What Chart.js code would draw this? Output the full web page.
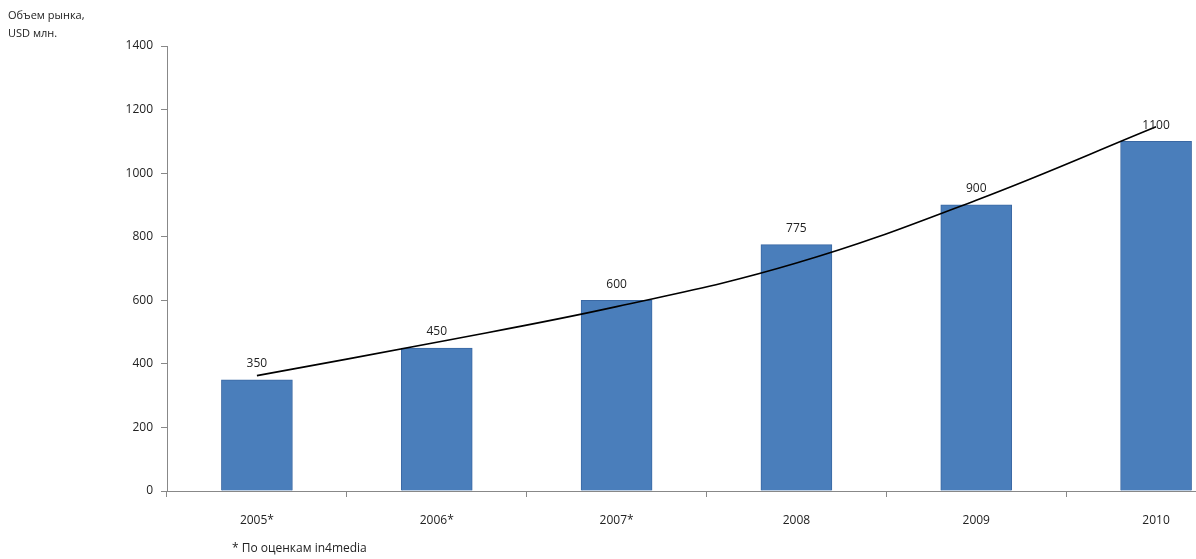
<!DOCTYPE html>
<html>
<head>
<meta charset="utf-8">
<script src="https://cdn.jsdelivr.net/npm/chart.js@4/dist/chart.umd.min.js"></script>
<style>
  html, body { margin: 0; padding: 0; background: #fff; overflow: hidden; }
  #wrap { position: relative; width: 1196px; height: 559px; overflow: hidden; }
  canvas { position: absolute; left: 0; top: 0; }
  .note { position: absolute; font-family: "Open Sans", "Liberation Sans", sans-serif; color: #222; }
</style>
</head>
<body>
<div id="wrap">
  <canvas id="chart" width="1250" height="559"></canvas>
  <div class="note" style="left:8px; top:6px; font-size:11px; line-height:18px;">Объем рынка,<br>USD млн.</div>
  <div class="note" style="left:232px; top:539px; font-size:12px;">* По оценкам in4media</div>
</div>
<script>
// данные
const YEARS = ['2005*', '2006*', '2007*', '2008', '2009', '2010'];
const MARKET = [350, 450, 600, 775, 900, 1100];
const TREND = [363, 468, 580, 717, 915, 1146]; // линия тренда, на глаз
const Y_TICKS = [0, 200, 400, 600, 800, 1000, 1200, 1400];

const FONT = '"Open Sans", "Liberation Sans", sans-serif';

// подписи над столбцами
const barValueLabels = {
  id: 'barValueLabels',
  afterDatasetsDraw(chart) {
    const meta = chart.getDatasetMeta(1);
    const ctx = chart.ctx;
    ctx.save();
    ctx.font = '12px ' + FONT;
    ctx.fillStyle = '#222';
    ctx.textAlign = 'center';
    ctx.textBaseline = 'bottom';
    meta.data.forEach((bar, i) => {
      ctx.fillText(String(MARKET[i]), bar.x, bar.y - 10);
    });
    ctx.restore();
  }
};

new Chart(document.getElementById('chart').getContext('2d'), {
  data: {
    labels: YEARS,
    datasets: [
      {
        type: 'line',
        label: 'Тренд',
        data: TREND,
        borderColor: '#000',
        borderWidth: 1.6,
        pointRadius: 0,
        tension: 0.4,
        fill: false,
        order: 0
      },
      {
        type: 'bar',
        label: 'Объем рынка',
        data: MARKET,
        backgroundColor: '#4a7ebb',
        borderColor: '#3a68a3',
        borderWidth: 1,
        barThickness: 71,
        order: 1
      }
    ]
  },
  plugins: [barValueLabels],
  options: {
    responsive: false,
    animation: false,
    layout: { padding: { top: 46, right: 4, left: 0, bottom: 0 } },
    plugins: {
      legend: { display: false },
      tooltip: { enabled: false }
    },
    scales: {
      x: {
        afterFit: s => { s.height = 68; },
        grid: { display: true, drawOnChartArea: false, color: '#888', tickLength: 6, offset: true },
        border: { color: '#888', width: 1 },
        ticks: { color: '#222', font: { family: FONT, size: 12 }, padding: 16 }
      },
      y: {
        min: 0,
        max: 1400,
        afterFit: s => { s.width = 167; },
        afterBuildTicks: s => { s.ticks = Y_TICKS.map(v => ({ value: v })); },
        grid: { display: true, drawOnChartArea: false, color: '#888', tickLength: 6 },
        border: { color: '#888', width: 1 },
        ticks: {
          color: '#222',
          font: { family: FONT, size: 12 },
          padding: 8,
          callback: v => String(v)
        }
      }
    }
  }
});
</script>
</body>
</html>
